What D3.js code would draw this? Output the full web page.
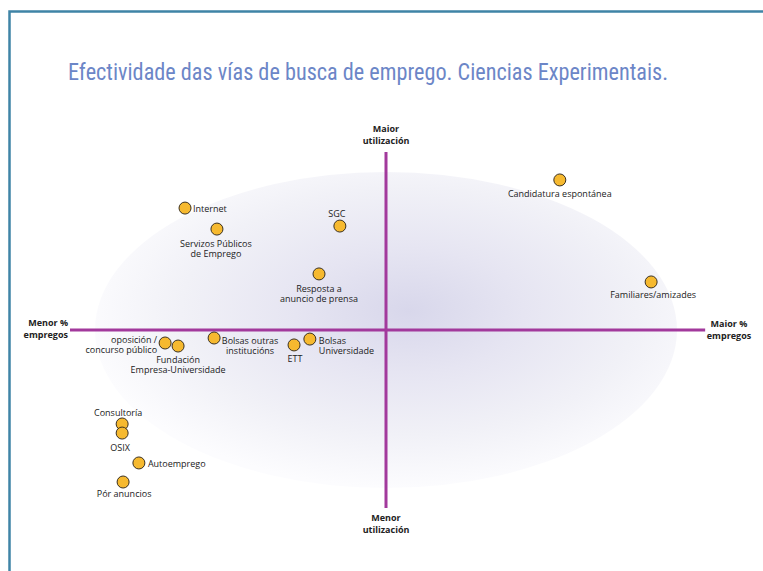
<!DOCTYPE html>
<html>
<head>
<meta charset="utf-8">
<script src="https://cdn.jsdelivr.net/npm/d3@7"></script>
<style>
  body { margin: 0; background: #fff; }
  svg { display: block; }
</style>
</head>
<body>
<div id="chart"></div>
<script>
let svgWidth = 763;
let svgHeight = 571;

// Data: vías de busca de emprego (x = % empregos, y = utilización)
let names = [
    "Candidatura espontánea", "Internet", "Servizos Públicos\nde Emprego", "SGC",
    "Resposta a\nanuncio de prensa", "Familiares/amizades", "oposición /\nconcurso público",
    "Fundación\nEmpresa-Universidade", "Bolsas outras\ninstitucións", "ETT",
    "Bolsas\nUniversidade", "Consultoría", "OSIX", "Autoemprego", "Pór anuncios"
];
let empregos = [55, -63.6, -53.5, -14.6, -21.2, 83.9, -69.9, -65.8, -54.4, -29.1, -24.1, -83.5, -83.5, -78.2, -83.2];
let utilizacion = [84.3, 68.5, 56.7, 58.4, 31.5, 27, -7.3, -9, -4.5, -8.4, -5.1, -52.8, -57.9, -74.7, -85.4];

// label placement relative to each dot: [anchor, dx, dy]
let labelPlacement = [
    ["middle", 0, 17], ["start", 8, 4], ["middle", -1, 18], ["middle", -3, -9],
    ["middle", 0, 18], ["middle", 2, 16], ["end", -8, 0],
    ["middle", 0, 17], ["middle", 36, 6], ["middle", 1, 17],
    ["start", 9, 5], ["middle", -4, -8], ["middle", -2, 18], ["start", 9, 4], ["middle", 1, 15]
];

let svg = d3.select("#chart")
    .append("svg")
    .attr("width", svgWidth)
    .attr("height", svgHeight);

// Scales
let x = d3.scaleLinear().domain([-100, 100]).range([70, 702]);
let y = d3.scaleLinear().domain([-100, 100]).range([508, 152]);

// Frame
svg.append("path")
    .attr("d", `M9.5,${svgHeight} L9.5,11.5 L${svgWidth},11.5`)
    .attr("fill", "none")
    .attr("stroke", "#3f84a6")
    .attr("stroke-width", 2.5);

// Title
svg.append("text")
    .attr("x", 68)
    .attr("y", 80)
    .attr("textLength", 600)
    .attr("lengthAdjust", "spacingAndGlyphs")
    .attr("font-family", "'Liberation Sans Narrow', 'Roboto Condensed', 'Noto Sans', sans-serif")
    .attr("font-size", 24)
    .attr("fill", "#6c86c7")
    .text("Efectividade das vías de busca de emprego. Ciencias Experimentais.");

// Background ellipse with radial gradient
let defs = svg.append("defs");
let grad = defs.append("radialGradient")
    .attr("id", "ellGrad")
    .attr("cx", "54%").attr("cy", "44%").attr("r", "56%");
grad.append("stop").attr("offset", "0%").attr("stop-color", "#d8d7eb");
grad.append("stop").attr("offset", "35%").attr("stop-color", "#e6e5f2");
grad.append("stop").attr("offset", "70%").attr("stop-color", "#f1f1f7");
grad.append("stop").attr("offset", "100%").attr("stop-color", "#fcfcfe");

svg.append("ellipse")
    .attr("cx", x(0))
    .attr("cy", y(0))
    .attr("rx", 291)
    .attr("ry", 158)
    .attr("fill", "url(#ellGrad)");

// Axes
svg.append("line")
    .attr("x1", x(-100)).attr("x2", x(101))
    .attr("y1", y(0)).attr("y2", y(0))
    .attr("stroke", "#a2399c")
    .attr("stroke-width", 3);

svg.append("line")
    .attr("x1", x(0)).attr("x2", x(0))
    .attr("y1", y(100)).attr("y2", y(-100))
    .attr("stroke", "#a2399c")
    .attr("stroke-width", 3);

// Axis end labels
let axisFont = "'Open Sans', 'Noto Sans', sans-serif";
function axisLabel(lines, px, py, anchor) {
    let t = svg.append("text")
        .attr("font-family", axisFont)
        .attr("font-size", 9)
        .attr("font-weight", "bold")
        .attr("fill", "#222")
        .attr("text-anchor", anchor);
    lines.forEach(function (l, i) {
        t.append("tspan").attr("x", px).attr("y", py + i * 12).text(l);
    });
}
axisLabel(["Menor %", "empregos"], 68, 326, "end");
axisLabel(["Maior %", "empregos"], 729, 327, "middle");
axisLabel(["Maior", "utilización"], x(0), 132, "middle");
axisLabel(["Menor", "utilización"], x(0), 521, "middle");

// Points
let pts = names.map(function (n, i) {
    return { name: n, x: empregos[i], y: utilizacion[i], place: labelPlacement[i] };
});

svg.append("g").selectAll("circle")
    .data(pts)
    .enter()
    .append("circle")
    .attr("cx", d => x(d.x))
    .attr("cy", d => y(d.y))
    .attr("r", 6)
    .attr("fill", "#f6b92f")
    .attr("stroke", "#3a3020")
    .attr("stroke-width", 1);

let labels = svg.append("g").selectAll("text")
    .data(pts)
    .enter()
    .append("text")
    .attr("font-family", axisFont)
    .attr("font-size", 9)
    .attr("fill", "#222")
    .attr("text-anchor", d => d.place[0]);

labels.each(function (d) {
    let t = d3.select(this);
    d.name.split("\n").forEach(function (l, i) {
        t.append("tspan")
            .attr("x", x(d.x) + d.place[1])
            .attr("y", y(d.y) + d.place[2] + i * 10)
            .text(l);
    });
});
</script>
</body>
</html>
